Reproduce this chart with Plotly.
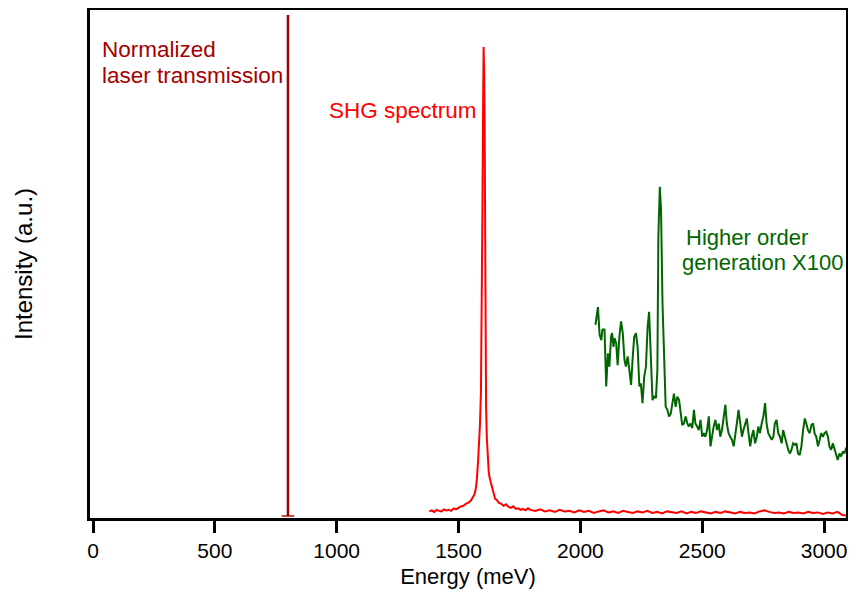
import plotly.graph_objects as go

# ---------------- data ----------------
laser_energy = [800, 800]
laser_intensity = [0.4, 99.0]

shg_energy = [1380, 1390, 1400, 1410, 1420, 1430, 1440, 1450, 1460, 1470, 1480, 1490, 1500, 1510,
              1520, 1530, 1540, 1550, 1560, 1565, 1570, 1575, 1580, 1585, 1588, 1592, 1595, 1598,
              1601, 1603, 1605, 1607, 1609, 1611, 1613, 1616, 1620, 1624, 1628, 1632, 1636, 1640,
              1645, 1650, 1658, 1665, 1675, 1685, 1695, 1705, 1715, 1725, 1735, 1745, 1755, 1765,
              1775, 1785, 1795, 1815, 1835, 1855, 1875, 1895, 1915, 1935, 1955, 1975, 1995, 2015,
              2035, 2055, 2075, 2095, 2115, 2135, 2155, 2175, 2195, 2215, 2235, 2255, 2275, 2295,
              2315, 2335, 2355, 2375, 2395, 2415, 2435, 2455, 2475, 2495, 2515, 2535, 2555, 2575,
              2595, 2615, 2635, 2655, 2675, 2695, 2715, 2735, 2755, 2775, 2795, 2815, 2835, 2855,
              2875, 2895, 2915, 2935, 2955, 2975, 2995, 3015, 3035, 3055, 3075, 3090, 3100]
shg_intensity = [1.3, 1.5, 1.2, 1.6, 1.4, 1.3, 1.7, 1.5, 1.6, 1.4, 1.9, 1.7, 2.0, 2.3,
                 2.4, 2.8, 3.0, 3.4, 4.2, 4.6, 5.5, 7.5, 11.0, 15.5, 18.5, 25.0, 38.0, 60.0,
                 83.0, 92.7, 88.0, 78.0, 55.0, 38.0, 22.0, 16.0, 12.0, 9.0, 7.8, 7.0, 6.4, 5.2,
                 4.2, 3.8, 3.5, 3.0, 2.8, 2.4, 2.7, 2.2, 2.0, 2.3, 1.8, 1.9, 1.6, 1.8,
                 1.5, 1.9, 1.6, 1.4, 1.7, 1.3, 1.5, 1.2, 1.6, 1.3, 1.4, 1.1, 1.5, 1.2,
                 1.4, 1.0, 1.3, 1.5, 1.1, 1.3, 1.0, 1.4, 1.2, 1.0, 1.3, 1.1, 1.4, 1.0,
                 1.2, 0.9, 1.3, 1.1, 1.0, 1.3, 0.9, 1.2, 1.0, 1.3, 1.1, 0.9, 1.2, 1.0,
                 1.3, 1.1, 0.9, 1.2, 1.0, 1.1, 0.9, 1.3, 1.5, 1.2, 1.0, 1.1, 0.9, 1.2,
                 1.0, 1.1, 0.9, 1.2, 1.0, 1.1, 0.8, 1.1, 0.9, 1.2, 0.6, 0.5, 0.8]

hog_energy = [2062, 2072, 2079, 2086, 2090, 2092, 2099, 2106, 2113, 2119, 2126, 2130, 2136, 2140,
              2147, 2153, 2160, 2167, 2174, 2181, 2187, 2194, 2201, 2208, 2215, 2221, 2228, 2235,
              2242, 2248, 2255, 2262, 2269, 2276, 2282, 2289, 2296, 2303, 2310, 2316, 2320, 2326,
              2331, 2337, 2343, 2350, 2357, 2364, 2371, 2377, 2384, 2391, 2398, 2405, 2411, 2418,
              2425, 2432, 2439, 2445, 2452, 2459, 2466, 2472, 2479, 2486, 2493, 2500, 2506, 2513,
              2520, 2527, 2534, 2540, 2547, 2554, 2561, 2568, 2574, 2581, 2588, 2595, 2601, 2608,
              2615, 2622, 2629, 2635, 2642, 2649, 2656, 2663, 2669, 2676, 2683, 2690, 2697, 2703,
              2710, 2717, 2724, 2730, 2737, 2744, 2751, 2758, 2764, 2771, 2778, 2785, 2792, 2798,
              2805, 2812, 2819, 2826, 2832, 2839, 2846, 2853, 2860, 2866, 2873, 2880, 2887, 2893,
              2900, 2907, 2914, 2921, 2927, 2934, 2941, 2948, 2955, 2961, 2968, 2975, 2982, 2988,
              2995, 3002, 3009, 3016, 3022, 3029, 3036, 3043, 3050, 3056, 3063, 3070, 3077, 3083,
              3090, 3097]
hog_intensity = [38.0, 41.5, 36.0, 35.0, 37.0, 37.1, 37.1, 25.9, 32.4, 29.8, 35.7, 36.4, 33.7, 35.4,
                 34.4, 30.1, 35.7, 38.7, 36.4, 31.1, 29.8, 31.8, 29.1, 26.2, 31.8, 35.7, 36.4, 33.7,
                 25.9, 26.5, 22.6, 27.8, 29.8, 37.7, 40.6, 31.8, 23.2, 23.9, 23.6, 29.1, 55.4, 65.2,
                 60.6, 42.3, 32.4, 21.9, 21.3, 20.0, 20.6, 22.6, 24.5, 21.9, 23.9, 23.2, 21.3, 18.3,
                 18.6, 20.0, 18.6, 18.0, 18.6, 17.7, 21.3, 18.6, 18.0, 17.3, 19.3, 16.0, 16.7, 16.0,
                 17.3, 20.0, 14.1, 16.0, 18.0, 19.3, 17.3, 18.6, 16.0, 17.3, 20.0, 22.3, 18.6, 16.7,
                 16.0, 15.4, 14.1, 16.7, 18.6, 21.3, 18.6, 16.0, 17.3, 18.6, 19.6, 16.7, 14.1, 16.0,
                 17.3, 14.7, 16.0, 18.0, 16.7, 18.6, 20.0, 22.6, 18.6, 16.7, 16.0, 15.4, 16.0, 18.6,
                 19.3, 16.7, 16.0, 14.7, 17.3, 16.0, 14.7, 13.4, 12.7, 13.4, 14.7, 14.4, 14.7, 12.7,
                 12.4, 14.1, 17.3, 19.6, 18.6, 17.3, 16.7, 18.3, 18.6, 16.7, 16.0, 14.1, 15.4, 16.7,
                 16.0, 16.7, 17.0, 16.0, 14.1, 13.4, 14.7, 13.4, 12.1, 11.4, 12.7, 12.1, 13.1, 12.7,
                 13.7, 14.1]

x_ticks = [0, 500, 1000, 1500, 2000, 2500, 3000]

LASER_COLOR = "#a50000"
SHG_COLOR = "#ff0000"
HOG_COLOR = "#006600"
FONT = "Arial, Liberation Sans, sans-serif"

fig = go.Figure()
fig.add_trace(go.Scatter(x=laser_energy, y=laser_intensity, mode="lines+markers",
                         line=dict(color=LASER_COLOR, width=2.5),
                         marker=dict(symbol="line-ew", size=[9, 0],
                                     line=dict(color=LASER_COLOR, width=2)),
                         showlegend=False, hoverinfo="skip"))
fig.add_trace(go.Scatter(x=shg_energy, y=shg_intensity, mode="lines",
                         line=dict(color=SHG_COLOR, width=2), showlegend=False))
fig.add_trace(go.Scatter(x=hog_energy, y=hog_intensity, mode="lines",
                         line=dict(color=HOG_COLOR, width=2), showlegend=False))

labels = [
    ("Normalized", 29, 92.3, LASER_COLOR, 22.5),
    ("laser transmission", 29, 87.1, LASER_COLOR, 22.5),
    ("SHG spectrum", 962, 80.3, SHG_COLOR, 22.5),
    ("Higher order", 2425, 55.3, HOG_COLOR, 22),
    ("generation X100", 2409, 50.2, HOG_COLOR, 22),
]
for txt, lx, ly, col, fs in labels:
    fig.add_annotation(x=lx, y=ly, xref="x", yref="y", xanchor="left", yanchor="middle",
                       text=txt, showarrow=False, align="left",
                       font=dict(family=FONT, size=fs, color=col))

# page body has an 8px margin; keep the whole frame inside the visible window
fig.update_layout(
    width=840, height=585,
    margin=dict(l=82, r=2, t=2, b=75),
    paper_bgcolor="white", plot_bgcolor="white",
    font=dict(family=FONT, size=21, color="black"),
    xaxis=dict(range=[-12.3, 3090], tickvals=x_ticks, ticktext=[str(v) for v in x_ticks],
               showgrid=False, zeroline=False, showline=True, linecolor="black", linewidth=3,
               mirror=True, ticks="outside", ticklen=12, tickwidth=2.5, tickcolor="black",
               automargin=False, ticklabeloverflow="allow",
               title=dict(text="Energy (meV)", font=dict(size=22), standoff=8),
               tickfont=dict(size=21)),
    yaxis=dict(range=[0, 100], showgrid=False, zeroline=False, showline=True,
               linecolor="black", linewidth=3, mirror=True, ticks="", showticklabels=False,
               automargin=False,
               title=dict(text="Intensity (a.u.)", font=dict(size=24), standoff=48)),
)

fig.write_html("out.html")
